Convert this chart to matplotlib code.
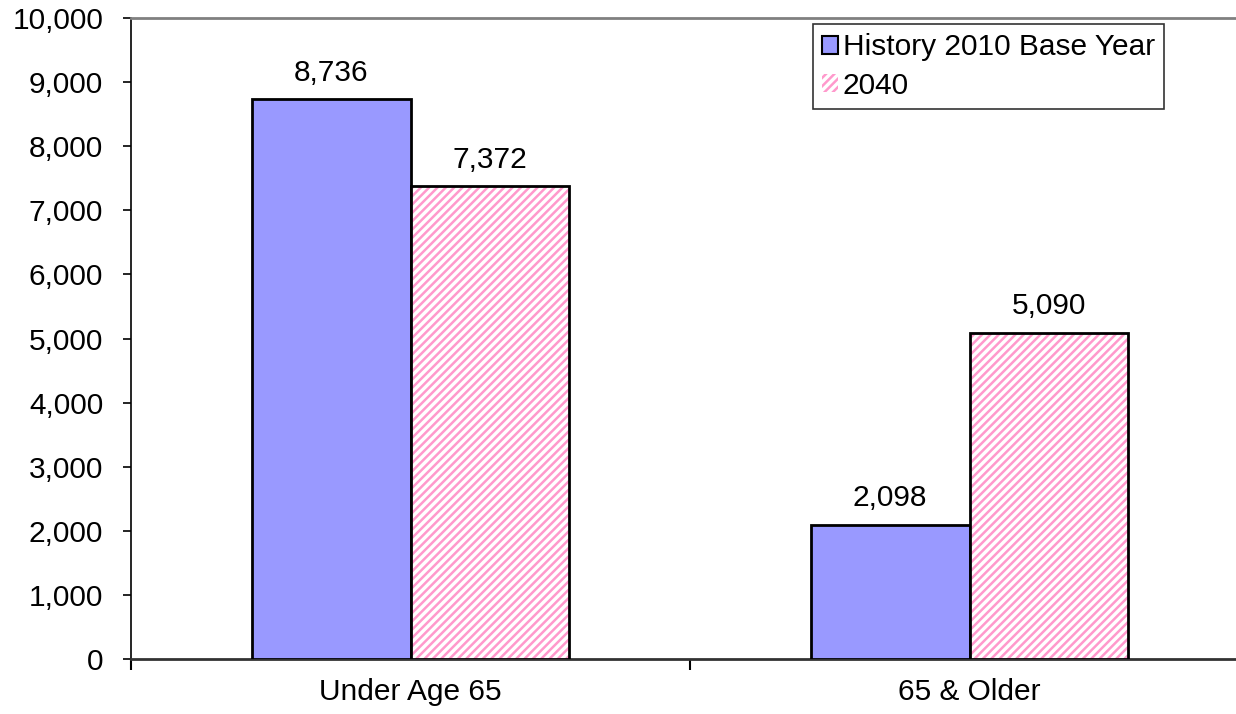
import numpy as np
import matplotlib
matplotlib.use('Agg')
import matplotlib.pyplot as plt
from matplotlib.patches import Patch
from matplotlib.ticker import FuncFormatter

## Data
categories = ['Under Age 65', '65 & Older']
history_2010 = [8736, 2098]
proj_2040 = [7372, 5090]
series_labels = ['History 2010 Base Year', '2040']

plt.rcParams['font.family'] = ['Liberation Sans', 'DejaVu Sans']
plt.rcParams['hatch.linewidth'] = 1.8

blue = '#9999FF'
pink = '#FF99CC'
fs = 21.5

fig = plt.figure(figsize=(12.36, 7.14), dpi=100)
ax = fig.add_axes([131/1236, 1 - 659/714, 1118/1236, 641/714])

x = np.arange(len(categories))
w = 0.284

# history bars
ax.bar(x - w/2, history_2010, w, color=blue, edgecolor='black', linewidth=2, zorder=3)
# 2040 bars: hatch in pink, outline drawn separately in black
ax.bar(x + w/2, proj_2040, w, color='white', edgecolor=pink, hatch='////', linewidth=0, zorder=3)
ax.bar(x + w/2, proj_2040, w, fill=False, edgecolor='black', linewidth=2, zorder=4)

# value labels
for xi, v in zip(x - w/2, history_2010):
    ax.annotate(f'{v:,}', (xi, v), textcoords='offset points', xytext=(0, 9),
                ha='center', va='bottom', fontsize=fs)
for xi, v in zip(x + w/2, proj_2040):
    ax.annotate(f'{v:,}', (xi, v), textcoords='offset points', xytext=(0, 9),
                ha='center', va='bottom', fontsize=fs)

ax.set_xlim(-0.5, 1.5)
ax.set_ylim(0, 10000)
ax.set_yticks(np.arange(0, 10001, 1000))
ax.yaxis.set_major_formatter(FuncFormatter(lambda v, p: f'{int(v):,}'))
ax.tick_params(axis='y', labelsize=fs, length=6, width=1.2, direction='out', pad=14)

ax.set_xticks(x)
ax.set_xticklabels(categories)
ax.set_xticks([-0.5, 0.5, 1.5], minor=True)
ax.tick_params(axis='x', which='major', length=0, labelsize=fs, pad=14)
ax.tick_params(axis='x', which='minor', length=8, width=1.5, direction='out')

ax.spines['right'].set_visible(False)
ax.spines['top'].set_color('#808080')
ax.spines['top'].set_linewidth(2)
ax.spines['left'].set_linewidth(1.2)
ax.spines['bottom'].set_linewidth(2)
ax.spines['bottom'].set_color('#333333')

handles = [Patch(facecolor=blue, edgecolor='black', linewidth=1.5),
           Patch(facecolor='white', edgecolor=pink, hatch='////', linewidth=0)]
leg = ax.legend(handles, series_labels, loc='upper left', bbox_to_anchor=(0.61, 0.99),
                borderaxespad=0, fontsize=fs, frameon=True, fancybox=False,
                handlelength=0.55, handleheight=0.55, handletextpad=0.15,
                borderpad=0.3, labelspacing=0.35)
leg.get_frame().set_edgecolor('black')
leg.get_frame().set_linewidth(1.2)

plt.savefig('out.png', dpi=100)
